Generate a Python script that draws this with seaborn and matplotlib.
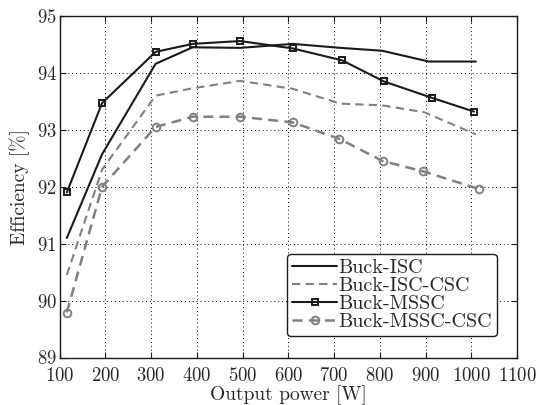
import matplotlib
matplotlib.use("Agg")
import matplotlib.pyplot as plt
import seaborn as sns

# output power [W] and efficiency [%]
isc_x = [116, 193, 310, 391, 495, 610, 714, 805, 907, 1010]
isc_y = [91.1, 92.57, 94.16, 94.45, 94.44, 94.51, 94.44, 94.39, 94.2, 94.2]

isc_csc_x = [116, 193, 310, 391, 495, 610, 714, 805, 897, 1010]
isc_csc_y = [90.45, 92.3, 93.6, 93.73, 93.86, 93.72, 93.46, 93.43, 93.31, 92.92]

mssc_x = [116, 193, 310, 391, 495, 610, 718, 809, 915, 1006]
mssc_y = [91.9, 93.47, 94.37, 94.51, 94.56, 94.43, 94.22, 93.85, 93.56, 93.32]

mssc_csc_x = [116, 193, 310, 391, 495, 610, 712, 807, 895, 1017]
mssc_csc_y = [89.79, 92.0, 93.05, 93.23, 93.23, 93.13, 92.84, 92.45, 92.27, 91.96]

sns.set_style("ticks")
plt.rcParams['font.family'] = ['cmr10', 'DejaVu Serif']
plt.rcParams['axes.formatter.use_mathtext'] = True
plt.rcParams['mathtext.fontset'] = 'cm'

fig = plt.figure(figsize=(5.4, 4.05), dpi=100)
ax = fig.add_axes([59.5 / 540, 1 - 357.5 / 405, 457.5 / 540, 341.5 / 405])

dark = '#1a1a1a'
grey = '#808080'

sns.lineplot(x=isc_x, y=isc_y, ax=ax, color=dark, lw=1.5, label='Buck-ISC')
sns.lineplot(x=isc_csc_x, y=isc_csc_y, ax=ax, color=grey, lw=1.5,
             linestyle=(0, (4, 2.5)), label='Buck-ISC-CSC')
sns.lineplot(x=mssc_x, y=mssc_y, ax=ax, color=dark, lw=1.5, marker='s',
             markersize=5, markerfacecolor='none', markeredgecolor=dark,
             markeredgewidth=1.4, label='Buck-MSSC')
sns.lineplot(x=mssc_csc_x, y=mssc_csc_y, ax=ax, color=grey, lw=1.8,
             linestyle=(0, (4, 2.5)), marker='o', markersize=5.5,
             markerfacecolor='none', markeredgecolor=grey,
             markeredgewidth=1.4, label='Buck-MSSC-CSC')

ax.set_xlim(100, 1100)
ax.set_ylim(89, 95)
ax.set_xticks(range(100, 1101, 100))
ax.set_yticks(range(89, 96))
ax.grid(True, color='black', linestyle=(0, (1, 3)), lw=0.7)
ax.tick_params(direction='in', length=4, labelsize=13.5, top=True, right=True,
               color=dark)
ax.tick_params(axis='x', pad=7)
ax.tick_params(axis='y', pad=2)
for lab in ax.get_yticklabels():
    lab.set_verticalalignment('center_baseline')
for s in ax.spines.values():
    s.set_color(dark)
    s.set_linewidth(1.0)

ax.set_xlabel('Output power [W]', fontsize=14, labelpad=0)
ax.set_ylabel('Efficiency [%]', fontsize=14, labelpad=5)

leg = ax.legend(loc='lower right', bbox_to_anchor=(0.957, 0.062), fontsize=14.5,
                frameon=True, fancybox=True, handlelength=2.2,
                handletextpad=0.1, labelspacing=0.0, borderpad=0.25,
                borderaxespad=0.0)
leg.get_frame().set_edgecolor(dark)
leg.get_frame().set_linewidth(1.0)
leg.get_frame().set_alpha(1)

fig.savefig('out.png', dpi=100, facecolor='white')
